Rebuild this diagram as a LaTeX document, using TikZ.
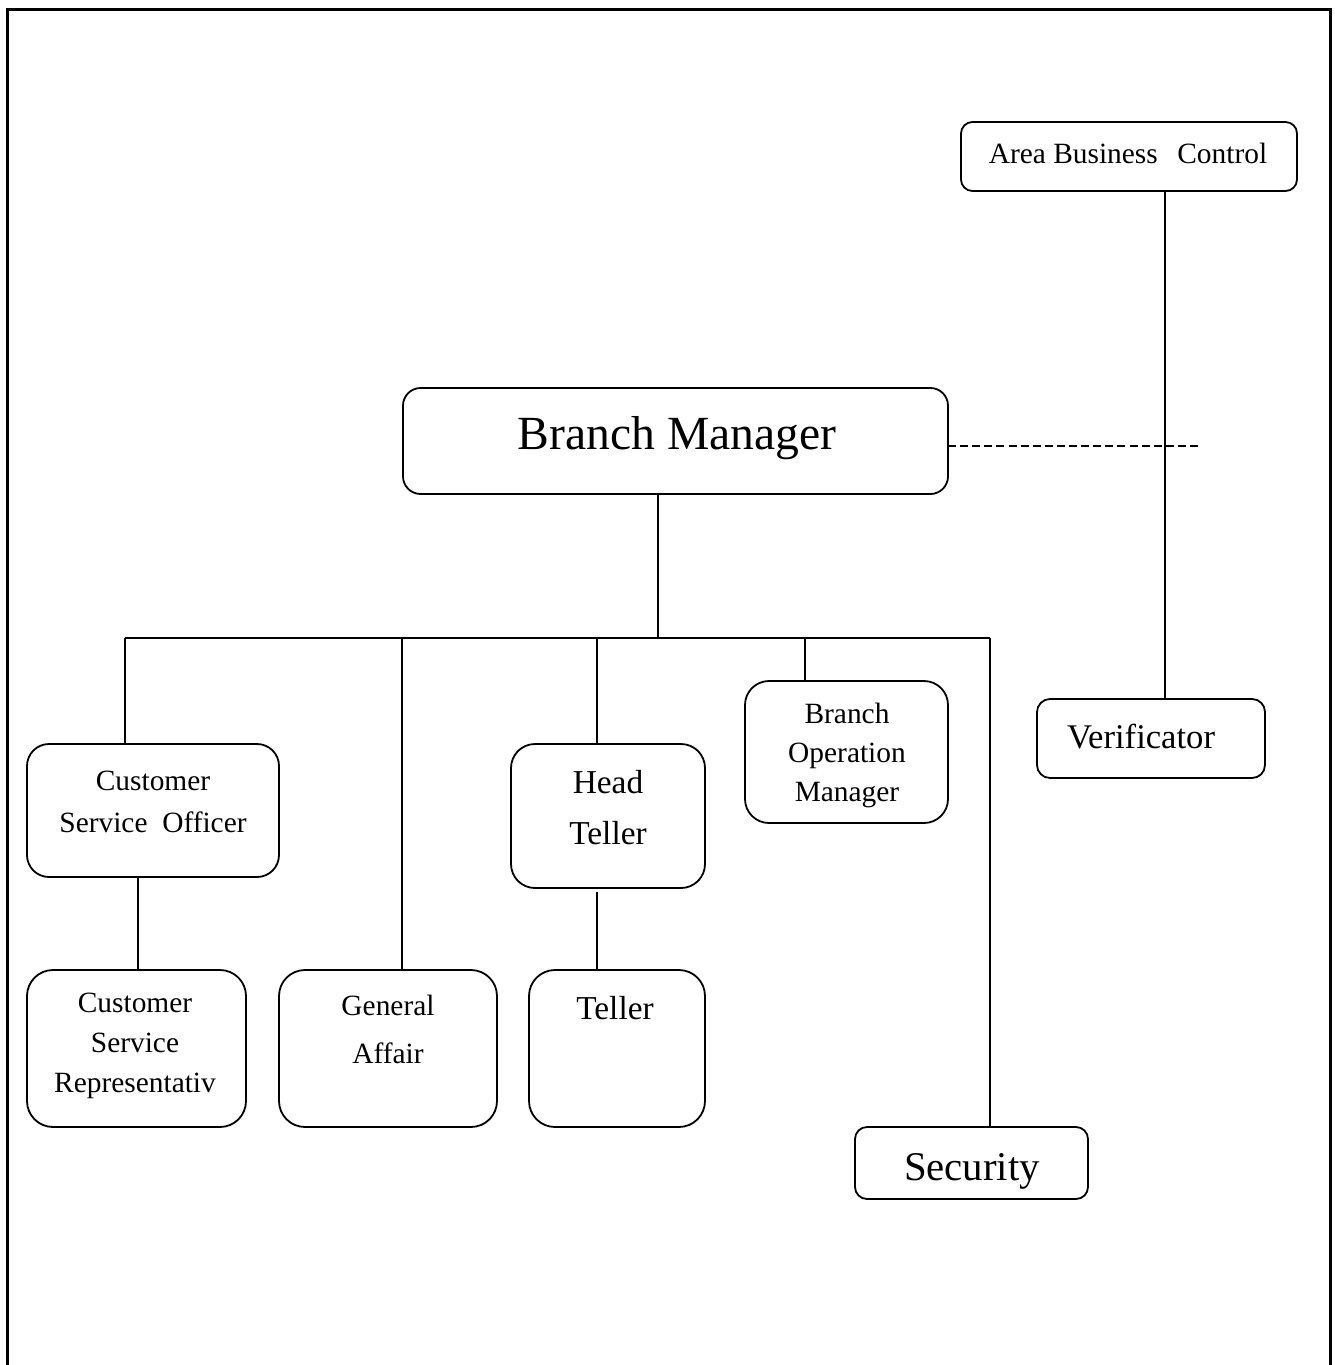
\documentclass[tikz,border=0pt]{standalone}
\usepackage{fontspec}
\setmainfont{Liberation Serif}
\begin{document}
\begin{tikzpicture}[x=0.5pt,y=-0.5pt,
  box/.style={draw, line width=0.9pt, inner sep=0pt, outer sep=0pt},
  conn/.style={line width=0.9pt},
  dashconn/.style={line width=0.75pt, dash pattern=on 4pt off 2.05pt},
  frame/.style={line width=1.5pt},
  sm/.style={font=\fontsize{14.7}{17}\selectfont, anchor=base, inner sep=0pt},
  md/.style={font=\fontsize{16.7}{20}\selectfont, anchor=base, inner sep=0pt},
  verf/.style={font=\fontsize{17.3}{20}\selectfont, anchor=base, inner sep=0pt},
  secf/.style={font=\fontsize{20.4}{24}\selectfont, anchor=base, inner sep=0pt},
  lg/.style={font=\fontsize{23.8}{28}\selectfont, anchor=base, inner sep=0pt}]
\useasboundingbox (0,0) rectangle (1334,1365);
% frame (open at the bottom)
\draw[frame] (7,1365) -- (7,9) -- (1330,9) -- (1330,1365);

% boxes
\node[box, minimum width=168pt, minimum height=34.5pt, rounded corners=5.75pt] (abc) at (1129,156.5) {};
\node[box, minimum width=272.5pt, minimum height=53pt, rounded corners=8.8pt] (bm) at (675.5,441) {};
\node[box, minimum width=126pt, minimum height=66.5pt, rounded corners=11pt] (cso) at (153,810.5) {};
\node[box, minimum width=109.5pt, minimum height=78.5pt, rounded corners=13pt] (csr) at (136.5,1048.5) {};
\node[box, minimum width=109pt, minimum height=78.5pt, rounded corners=13pt] (ga) at (388,1048.5) {};
\node[box, minimum width=97pt, minimum height=72pt, rounded corners=12pt] (ht) at (608,816) {};
\node[box, minimum width=88pt, minimum height=78.5pt, rounded corners=13pt] (tel) at (617,1048.5) {};
\node[box, minimum width=101.5pt, minimum height=71pt, rounded corners=12pt] (bom) at (846.5,752) {};
\node[box, minimum width=114pt, minimum height=39.5pt, rounded corners=6.5pt] (ver) at (1151,738.5) {};
\node[box, minimum width=116.5pt, minimum height=36pt, rounded corners=6pt] (sec) at (971.5,1163) {};

% texts
\node[sm] (abct) at (1128,163) {Area Business\ \ \,Control};
\node[lg] (bmt) at (677,449) {Branch Manager};
\node[sm] (csot1) at (153,790) {Customer};
\node[sm] (csot2) at (153,832) {Service\ \ Officer};
\node[sm] (csrt1) at (135,1012) {Customer};
\node[sm] (csrt2) at (135,1052) {Service};
\node[sm] (csrt3) at (135,1092) {Representativ};
\node[sm] (gat1) at (388,1015) {General};
\node[sm] (gat2) at (388,1063) {Affair};
\node[md] (htt1) at (608,793) {Head};
\node[md] (htt2) at (608,844) {Teller};
\node[md] (telt) at (615,1019) {Teller};
\node[sm] (bomt1) at (847,723) {Branch};
\node[sm] (bomt2) at (847,762) {Operation};
\node[sm] (bomt3) at (847,801) {Manager};
\node[verf] (vert) at (1141,748) {Verificator};
\node[secf] (sect) at (972,1180) {Security};

% connector coordinates
\coordinate (vx) at (1165,0);
\coordinate (dashend) at (1198,446);
\coordinate (busM) at (658,638);
\coordinate (busL) at (125,638);
\coordinate (busR) at (990,638);
\coordinate (bga) at (402,638);
\coordinate (bht) at (597,638);
\coordinate (bbom) at (805,638);
\coordinate (cx) at (138,0);

% connectors
\draw[conn] (abc.south -| vx) -- (ver.north -| vx);
\draw[dashconn] (bm.east |- dashend) -- (dashend);
\draw[conn] (bm.south -| busM) -- (busM);
\draw[conn] (busL) -- (busR);
\draw[conn] (busL) -- (cso.north -| busL);
\draw[conn] (bga) -- (ga.north -| bga);
\draw[conn] (bht) -- (ht.north -| bht);
\draw[conn] (bbom) -- (bom.north -| bbom);
\draw[conn] (busR) -- (sec.north -| busR);
\draw[conn] (cso.south -| cx) -- (csr.north -| cx);
\draw[conn] ([yshift=-2pt]ht.south -| bht) -- (tel.north -| bht);
\end{tikzpicture}
\end{document}
